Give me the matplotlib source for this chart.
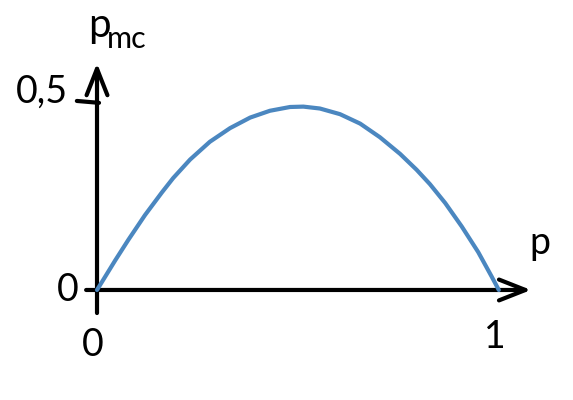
import numpy as np
import matplotlib
matplotlib.use("Agg")
import matplotlib.pyplot as plt

# curve: p on x, p_mc on y
p = [0.0, 0.045, 0.078, 0.119, 0.161, 0.189, 0.231, 0.280, 0.330, 0.380, 0.429,
     0.479, 0.512, 0.553, 0.603, 0.653, 0.702, 0.752, 0.793, 0.826, 0.864,
     0.905, 0.946, 0.979, 0.997]
p_mc = [0.0, 0.078, 0.133, 0.198, 0.258, 0.296, 0.345, 0.392, 0.428, 0.456, 0.474,
        0.484, 0.485, 0.480, 0.465, 0.440, 0.404, 0.360, 0.318, 0.280, 0.230,
        0.168, 0.100, 0.036, 0.0]

x_label = "p"
y_label = "p"
y_label_sub = "mc"
y_tick = 0.5
y_tick_label = "0,5"
x_tick_labels = ["0", "1"]
origin_label = "0"

plt.rcParams["font.family"] = ["Lato", "DejaVu Sans"]

fig = plt.figure(figsize=(5.73, 4.0), dpi=100)
ax = fig.add_axes([0, 0, 1, 1])
ax.set_xlim(-0.2407, 1.1811)
ax.set_ylim(-0.291, 0.767)
ax.axis("off")

# axes with open arrow heads
arrow = dict(arrowstyle="->,head_length=19,head_width=7.5", mutation_scale=1,
             color="black", lw=3, shrinkA=0, shrinkB=0)
ax.annotate("", xy=(1.077, 0), xytext=(-0.027, 0), arrowprops=arrow)
ax.annotate("", xy=(0, 0.60), xytext=(0, -0.061), arrowprops=arrow)
ax.plot([-0.05, 0.005], [y_tick, y_tick - 0.005], color="black", lw=3, solid_capstyle="round")

ax.plot(p, p_mc, color="#4b87c0", lw=3, solid_capstyle="round",
        solid_joinstyle="round", zorder=3)

fs = 27
ax.text(-0.136, 0.524, y_tick_label, fontsize=fs, ha="center", va="center")
ax.text(-0.072, 0.0, origin_label, fontsize=fs, ha="center", va="center")
ax.text(-0.01, -0.146, x_tick_labels[0], fontsize=fs, ha="center", va="center")
ax.text(0.988, -0.124, x_tick_labels[1], fontsize=fs, ha="center", va="center")
ax.text(1.099, 0.125, x_label, fontsize=fs, ha="center", va="center")
ax.text(-0.022, 0.70, y_label, fontsize=29, ha="left", va="center")
ax.text(0.025, 0.665, y_label_sub, fontsize=22, ha="left", va="center")

fig.savefig("out.png", dpi=100)
